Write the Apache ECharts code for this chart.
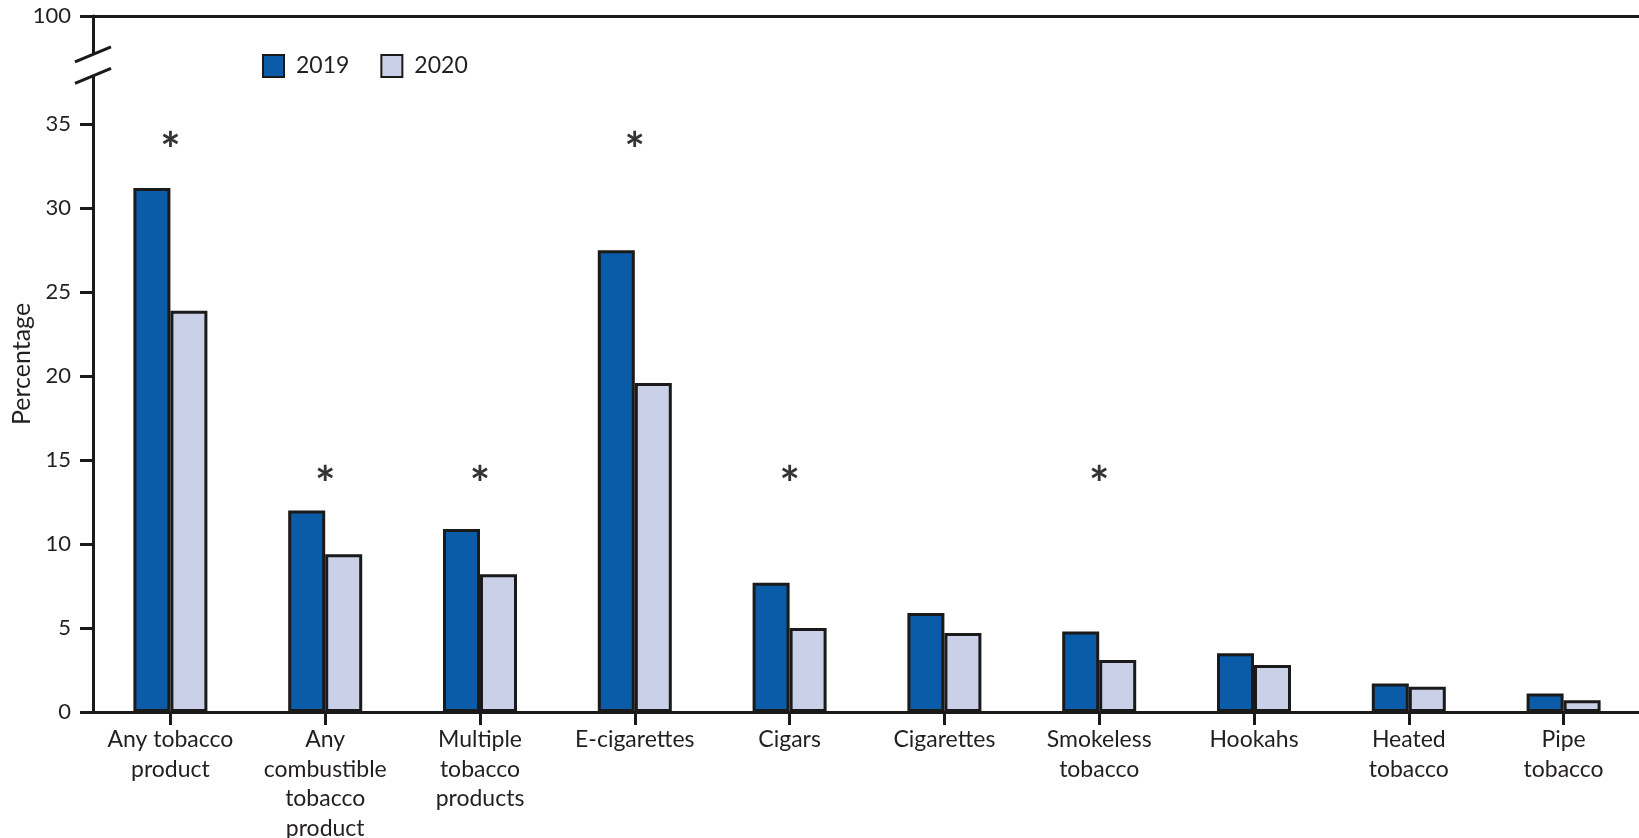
<!DOCTYPE html>
<html>
<head>
<meta charset="utf-8">
<script src="https://cdn.jsdelivr.net/npm/echarts@6/dist/echarts.min.js"></script>
<style>
  html, body { margin: 0; padding: 0; background: #ffffff; }
  #chart { width: 1639px; height: 838px; }
</style>
</head>
<body>
<div id="chart"></div>
<script>
// ---- data ----
const categories = [
  'Any tobacco\nproduct',
  'Any\ncombustible\ntobacco\nproduct',
  'Multiple\ntobacco\nproducts',
  'E-cigarettes',
  'Cigars',
  'Cigarettes',
  'Smokeless\ntobacco',
  'Hookahs',
  'Heated\ntobacco',
  'Pipe\ntobacco'
];
const seriesNames = ['2019', '2020'];
const values2019 = [31.2, 12.0, 10.9, 27.5, 7.7, 5.9, 4.8, 3.5, 1.7, 1.1];
const values2020 = [23.9, 9.4, 8.2, 19.6, 5.0, 4.7, 3.1, 2.8, 1.5, 0.7];
// significance markers ("*"), placed at a y-value above the pair, null = none
const asteriskValues = [34.1, 14.2, 14.2, 34.1, 14.2, null, 14.2, null, null, null];
const yTickValues = [0, 5, 10, 15, 20, 25, 30, 35];
const topTickLabel = '100';

// ---- layout constants ----
const AXIS_TOP = 41.45;      // value at which the broken axis top ("100") sits
const BREAK_UPPER = 39.16;   // upper slash of the axis break
const BREAK_LOWER = 37.88;   // lower slash of the axis break
const GRID_LEFT = 93;
const FONT = 'Lato';
const TEXT = '#231f20';
const INK = '#1a1a1a';

const chart = echarts.init(document.getElementById('chart'), null, { renderer: 'canvas' });

const option = {
  animation: false,
  backgroundColor: '#ffffff',
  grid: { left: GRID_LEFT, width: 1548, top: 16, bottom: 126, containLabel: false, outerBoundsMode: 'none' },
  legend: {
    data: seriesNames,
    left: 262, top: 54,
    padding: 0,
    icon: 'rect',
    itemWidth: 21, itemHeight: 22,
    itemGap: 31,
    textStyle: { fontFamily: FONT, fontSize: 23, color: TEXT, padding: [0, 0, 0, 7] }
  },
  xAxis: [
    {
      type: 'category',
      data: categories,
      axisLine: { show: true, lineStyle: { color: INK, width: 3 } },
      axisTick: { show: true, alignWithLabel: true, length: 13, lineStyle: { color: INK, width: 3 } },
      axisLabel: { interval: 0, margin: 13, fontFamily: FONT, fontSize: 23, lineHeight: 29.5, color: TEXT },
      splitLine: { show: false }
    },
    {
      type: 'category',
      position: 'top',
      data: categories,
      axisLine: { show: true, lineStyle: { color: INK, width: 3 } },
      axisTick: { show: false },
      axisLabel: { show: false },
      splitLine: { show: false }
    }
  ],
  yAxis: {
    type: 'value',
    min: 0,
    max: AXIS_TOP,
    name: 'Percentage',
    nameLocation: 'middle',
    nameGap: 59,
    nameMoveOverlap: false,
    nameRotate: 90,
    nameTextStyle: { fontFamily: FONT, fontSize: 25, color: TEXT },
    axisLine: { show: true, lineStyle: { color: INK, width: 3 } },
    axisTick: { show: true, length: 13, lineStyle: { color: INK, width: 3 },
      customValues: yTickValues.concat([AXIS_TOP]) },
    axisLabel: {
      margin: 22, fontFamily: FONT, fontSize: 22, color: TEXT,
      customValues: yTickValues.concat([AXIS_TOP]),
      formatter: v => (Math.abs(v - AXIS_TOP) < 1e-6 ? topTickLabel : String(v))
    },
    splitLine: { show: false }
  },
  series: [
    {
      name: seriesNames[0], type: 'bar', data: values2019,
      barWidth: 37, barGap: '0%',
      itemStyle: { color: '#0a5ba8', borderColor: INK, borderWidth: 3 }
    },
    {
      name: seriesNames[1], type: 'bar', data: values2020,
      barWidth: 37, barGap: '0%',
      itemStyle: { color: '#c9d0e8', borderColor: INK, borderWidth: 3 }
    },
    {
      name: 'significance', type: 'scatter', data: asteriskValues,
      symbolSize: 1, itemStyle: { color: 'rgba(0,0,0,0)' }, silent: true,
      label: { show: true, position: 'inside', formatter: '*', fontFamily: FONT,
        fontSize: 48, fontWeight: 'bold', color: '#000', offset: [0, 12] }
    }
  ]
};
chart.setOption(option);

// ---- axis break marks on the y axis ----
const yUp = chart.convertToPixel({ yAxisIndex: 0 }, BREAK_UPPER);
const yLo = chart.convertToPixel({ yAxisIndex: 0 }, BREAK_LOWER);
const ax = GRID_LEFT;
chart.setOption({
  graphic: [
    { type: 'rect', shape: { x: ax - 4, y: yUp, width: 8, height: yLo - yUp },
      style: { fill: '#ffffff' }, z: 100 },
    { type: 'line', shape: { x1: ax - 18, y1: yUp + 7.5, x2: ax + 18, y2: yUp - 7.5 },
      style: { stroke: INK, lineWidth: 3 }, z: 101 },
    { type: 'line', shape: { x1: ax - 18, y1: yLo + 7.5, x2: ax + 18, y2: yLo - 7.5 },
      style: { stroke: INK, lineWidth: 3 }, z: 101 }
  ]
});
</script>
</body>
</html>
